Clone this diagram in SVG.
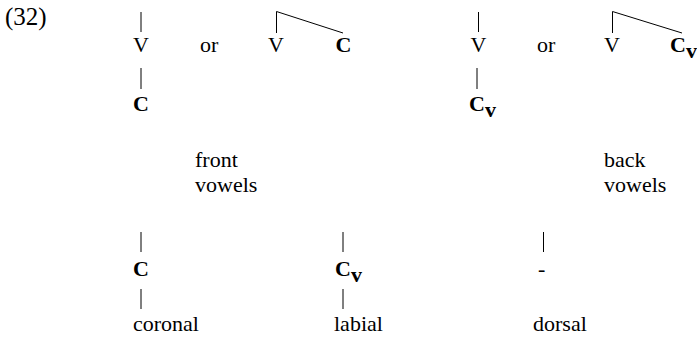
<svg xmlns="http://www.w3.org/2000/svg" width="697" height="337" viewBox="0 0 697 337">
<style>
text{font-family:"Liberation Serif","Times New Roman",serif;font-size:22px;fill:#000}
.b{font-weight:bold}
.m{text-anchor:middle}
line,path{stroke:#000;stroke-width:1;fill:none}
</style>
<rect width="697" height="337" fill="#fff"/>
<text x="5" y="25" style="font-size:25px">(32)</text>
<g id="connectors">
<line x1="141" y1="12" x2="141" y2="32"/>
<line x1="141" y1="68" x2="141" y2="89"/>
<path d="M276.5 33V11.5L343 33"/>
<line x1="478.5" y1="12" x2="478.5" y2="32"/>
<line x1="477" y1="68" x2="477" y2="89"/>
<path d="M612.5 33V11.5L682 33"/>
<line x1="141" y1="232" x2="141" y2="252"/>
<line x1="141" y1="289" x2="141" y2="309"/>
<line x1="343" y1="232" x2="343" y2="252"/>
<line x1="343" y1="289" x2="343" y2="309"/>
<line x1="543.5" y1="232" x2="543.5" y2="252"/>
</g>
<g id="n1v"><text x="141" y="52" class="m">V</text></g>
<g id="n1c"><text x="141" y="111" class="m b">C</text></g>
<g id="or1"><text x="200" y="52">or</text></g>
<g id="n2v"><text x="276" y="52" class="m">V</text></g>
<g id="n2c"><text x="343.5" y="52" class="m b">C</text></g>
<g id="n3v"><text x="478.5" y="52" class="m">V</text></g>
<g id="n3c"><text x="469" y="111" class="b">C<tspan dy="6">v</tspan></text></g>
<g id="or2"><text x="537" y="52">or</text></g>
<g id="n4v"><text x="612" y="52" class="m">V</text></g>
<g id="n4c"><text x="670" y="52" class="b">C<tspan dy="6">v</tspan></text></g>
<g id="front"><text x="195" y="167">front</text><text x="195" y="192">vowels</text></g>
<g id="back"><text x="604" y="167">back</text><text x="604" y="192">vowels</text></g>
<g id="coronal"><text x="141" y="276" class="m b">C</text><text x="133" y="331">coronal</text></g>
<g id="labial"><text x="335" y="276" class="b">C<tspan dy="6">v</tspan></text><text x="334" y="331">labial</text></g>
<g id="dorsal"><text x="538" y="276">-</text><text x="533" y="331">dorsal</text></g>
</svg>
